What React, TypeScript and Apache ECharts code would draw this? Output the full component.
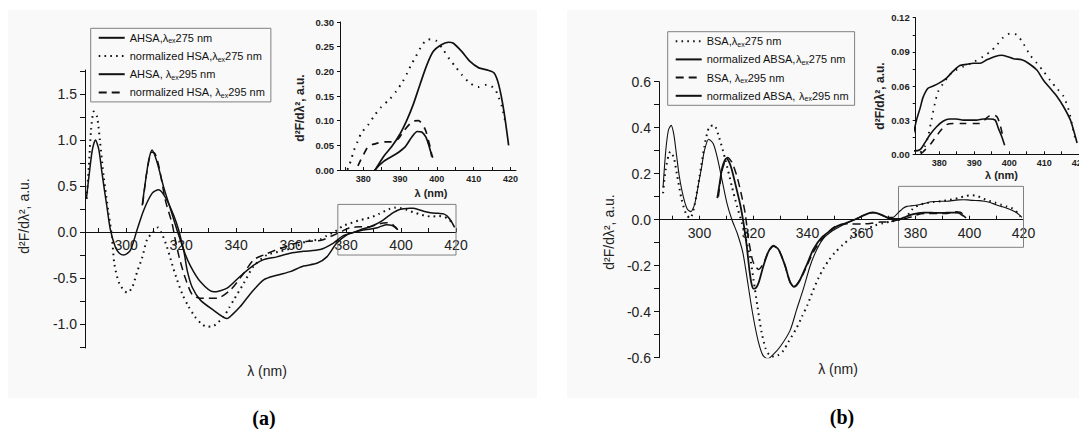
import React, { useEffect, useRef } from 'react';
import * as echarts from 'echarts';

type P = [number, number];

// ---------- Panel (a) data ----------
const ahsa275: P[] = [
  [285.5, 0.36], [286.5, 0.62], [287.6, 0.88], [288.8, 1.0], [290, 0.9], [291.2, 0.64], [292.1, 0.45], [293, 0.27],
  [294.2, 0.03], [296, -0.16], [297.5, -0.23], [299.1, -0.25], [301.5, -0.2], [303.9, 0.02], [306.4, 0.24],
  [309.4, 0.42], [311.8, 0.46], [314.2, 0.38], [317.3, 0.18], [319.1, 0.02], [321, -0.2], [323.4, -0.37],
  [327, -0.54], [331.8, -0.65], [336.7, -0.61], [341.5, -0.48], [346.4, -0.36], [350, -0.3], [354.8, -0.27],
  [359.7, -0.23], [364.5, -0.21], [370.6, -0.19], [375.4, -0.12], [379, -0.04], [383.2, 0], [385.5, 0.027],
  [387.7, 0.047], [390, 0.073], [391.8, 0.1], [393.6, 0.133], [395.5, 0.175], [397.3, 0.213], [399, 0.24],
  [401, 0.253], [403.2, 0.259], [404.5, 0.257], [406.8, 0.24], [409, 0.22], [411.4, 0.207], [413.6, 0.203],
  [415.5, 0.197], [416.8, 0.173], [418.2, 0.12], [419.5, 0.05]
];
const hsa275: P[] = [
  [285.6, 0.36], [286.4, 0.71], [287.2, 1.11], [288.2, 1.31], [289.4, 1.25], [290.4, 1.0], [291.8, 0.6],
  [293.6, 0.2], [294.8, -0.05], [295.7, -0.35], [297.5, -0.56], [300.4, -0.66], [302.2, -0.6], [304, -0.43],
  [305.8, -0.28], [307.6, -0.08], [309.8, 0], [311.6, 0.05], [313, -0.02], [314.8, -0.16], [316.7, -0.35],
  [318.5, -0.52], [320.5, -0.68], [322.5, -0.8], [325, -0.92], [327.5, -1.0], [329.5, -1.03], [331.8, -1.02],
  [333.5, -0.98], [335.5, -0.92], [337.5, -0.82], [339.1, -0.74], [342.7, -0.56], [346.4, -0.37], [351.2, -0.25],
  [356.1, -0.21], [360.9, -0.17], [365.7, -0.1], [370.6, -0.08], [373, -0.04], [375, -0.01], [376.1, 0.007],
  [376.8, 0.023], [377.5, 0.04], [378.5, 0.058], [379.5, 0.075], [381.4, 0.092], [383, 0.11], [384.8, 0.127],
  [387.1, 0.143], [389, 0.16], [390.7, 0.179], [392, 0.197], [393, 0.213], [394.3, 0.23], [395.6, 0.248],
  [397.5, 0.265], [399.8, 0.262], [401.8, 0.243], [403.4, 0.225], [405, 0.21], [406.8, 0.193], [408.9, 0.177],
  [411.2, 0.168], [413.6, 0.173], [415.7, 0.165], [416.8, 0.147], [417.7, 0.128], [418.6, 0.097]
];
const ahsa295: P[] = [
  [305.8, 0.29], [307, 0.55], [308.2, 0.78], [309.4, 0.89], [311.2, 0.76], [313.6, 0.49], [316.1, 0.25],
  [318.5, 0.02], [320.9, -0.2], [322.2, -0.42], [324, -0.6], [327, -0.74], [331.8, -0.85], [336.7, -0.94],
  [338.5, -0.9], [341.5, -0.81], [345.2, -0.67], [350, -0.52], [354.8, -0.47], [359.7, -0.43], [364.5, -0.37],
  [369.4, -0.34], [373, -0.27], [376.6, -0.12], [380.3, -0.03], [383.2, 0], [385.5, 0.017], [389, 0.033],
  [391.4, 0.047], [393.2, 0.067], [394.7, 0.078], [395.9, 0.077], [397, 0.067], [397.7, 0.053], [398.5, 0.033],
  [398.9, 0.025]
];
const hsa295: P[] = [
  [306, 0.3], [307.5, 0.65], [309.3, 0.87], [310.5, 0.85], [312, 0.7], [314.2, 0.35], [316.7, 0.09],
  [317.9, -0.09], [319.5, -0.3], [321.5, -0.5], [324, -0.68], [327, -0.72], [330, -0.72], [333, -0.72],
  [337.9, -0.63], [342.7, -0.45], [346.4, -0.3], [350, -0.25], [354, -0.2], [358, -0.16], [362, -0.12],
  [366, -0.1], [371, -0.09], [375, -0.04], [378, 0], [379.3, 0.02], [380, 0.03], [381.4, 0.048], [383.2, 0.053],
  [385.5, 0.057], [387.7, 0.057], [389.5, 0.063], [391.1, 0.08], [393.6, 0.099], [395, 0.1], [396.8, 0.083],
  [397.7, 0.06], [398.4, 0.04], [398.6, 0.027]
];

// ---------- Panel (b) data ----------
const bsa275: P[] = [
  [286.5, 0.115], [287.5, 0.22], [289.2, 0.296], [290.5, 0.27], [291.6, 0.2], [293.4, 0.087], [295.2, 0.02],
  [296.6, 0.007], [298.2, 0.065], [300, 0.187], [301.8, 0.317], [303.6, 0.404], [305.4, 0.41], [307.2, 0.36],
  [309.6, 0.26], [312, 0.144], [313.9, 0.058], [315.7, -0.014], [317.5, -0.1], [318.7, -0.16], [320, -0.26],
  [321.5, -0.38], [323, -0.49], [324.5, -0.56], [326, -0.59], [327.5, -0.595], [329, -0.59], [331, -0.57],
  [333, -0.53], [336, -0.47], [338, -0.42], [340, -0.37], [342, -0.31], [344, -0.255], [346, -0.21],
  [348, -0.175], [350, -0.145], [353, -0.11], [356, -0.08], [359, -0.058], [362, -0.04], [365, -0.025],
  [368, -0.015], [371, -0.008], [373, -0.003], [374.6, 0.0015], [375.9, 0.007], [376.8, 0.015], [377.8, 0.03],
  [378.8, 0.045], [379.7, 0.055], [381.1, 0.062], [383, 0.07], [384.9, 0.074], [386.9, 0.077], [389.8, 0.081],
  [392.6, 0.086], [394.5, 0.09], [396.5, 0.096], [398.4, 0.103], [400.3, 0.106], [402.2, 0.105], [404.1, 0.097],
  [406, 0.087], [407.9, 0.08], [409.8, 0.073], [411.7, 0.065], [413.6, 0.058], [415.5, 0.051], [417, 0.039],
  [417.9, 0.027], [418.9, 0.013]
];
const absa275: P[] = [
  [286.5, 0.14], [287.5, 0.3], [288.5, 0.39], [289.5, 0.41], [290.5, 0.37], [291.5, 0.28], [292.5, 0.19],
  [294, 0.1], [295.5, 0.045], [296.8, 0.035], [298, 0.06], [298.8, 0.1], [300, 0.18], [300.8, 0.23],
  [301.8, 0.3], [303.4, 0.35], [305.1, 0.33], [306.6, 0.27], [308.4, 0.17], [310.2, 0.07], [312, 0],
  [314, -0.06], [316, -0.14], [317.5, -0.245], [319, -0.36], [320.5, -0.46], [322, -0.54], [323.5, -0.59],
  [325.3, -0.605], [327, -0.59], [330, -0.55], [333.6, -0.48], [336, -0.39], [338.5, -0.3], [341, -0.2],
  [343.5, -0.128], [346, -0.08], [349, -0.05], [352, -0.03], [355, -0.012], [358, 0.003], [361, 0.02],
  [363, 0.028], [365, 0.029], [367, 0.022], [369.5, 0.01], [371.5, 0.01], [373.7, 0.032], [374.6, 0.041],
  [375.4, 0.05], [376.8, 0.058], [378.3, 0.06], [380.2, 0.063], [382.1, 0.067], [384, 0.073], [385.9, 0.078],
  [387.8, 0.079], [389.8, 0.08], [391.7, 0.08], [393.6, 0.083], [396, 0.086], [397.9, 0.087], [399.3, 0.086],
  [401.2, 0.084], [403.6, 0.083], [405.5, 0.08], [407.9, 0.074], [409.8, 0.065], [411.7, 0.058], [413.6, 0.051],
  [415.5, 0.042], [417.5, 0.03], [418.5, 0.02], [419.4, 0.01]
];
const bsa295: P[] = [
  [307, 0.1], [308.5, 0.22], [310.5, 0.27], [312, 0.25], [313.9, 0.187], [315.4, 0.115], [316.9, 0.029],
  [318, -0.072], [319.5, -0.17], [320.5, -0.2], [321.9, -0.216], [323.7, -0.19], [325.5, -0.14], [327.4, -0.115],
  [329.3, -0.13], [331.7, -0.2], [333.5, -0.27], [335, -0.29], [337.3, -0.26], [339.8, -0.2], [342.2, -0.14],
  [345, -0.09], [348, -0.05], [351, -0.025], [355, -0.018], [360, -0.019], [364, -0.015], [367, -0.01],
  [370, -0.01], [372.5, -0.003], [374.5, 0], [375.4, 0.002], [377.8, 0.01], [380.2, 0.02], [382.1, 0.026],
  [384, 0.027], [386.9, 0.027], [389.8, 0.027], [391.7, 0.027], [393.6, 0.032], [395, 0.035], [396.5, 0.033],
  [397.4, 0.026], [398.2, 0.0155]
];
const absa295: P[] = [
  [306.6, 0.094], [307.5, 0.16], [308.5, 0.23], [310, 0.267], [311, 0.25], [312, 0.216], [313.5, 0.144],
  [315.1, 0.065], [316.3, -0.014], [317.5, -0.115], [318.5, -0.22], [319.3, -0.28], [320, -0.3], [321, -0.295],
  [321.9, -0.274], [323.7, -0.2], [325.5, -0.14], [327.4, -0.113], [329.3, -0.13], [331.7, -0.2], [333.5, -0.27],
  [335, -0.292], [336, -0.285], [337.3, -0.26], [339.8, -0.194], [342.2, -0.128], [345.3, -0.077],
  [348.4, -0.048], [351, -0.028], [354, -0.016], [358, 0.003], [361, 0.02], [364, 0.032], [366, 0.028],
  [367.7, 0.02], [370.1, 0.006], [372.5, 0.003], [374.5, 0.004], [375.9, 0.01], [377.3, 0.017], [379.2, 0.024],
  [381.1, 0.029], [383, 0.031], [384.9, 0.031], [386.9, 0.03], [388.8, 0.03], [390.7, 0.03], [392.6, 0.031],
  [394.5, 0.031], [396, 0.03], [396.9, 0.023], [397.9, 0.0155], [398.7, 0.008]
];

// ---------- Ticks / labels ----------
const mainXTicks = [290, 300, 310, 320, 330, 340, 350, 360, 370, 380, 390, 400, 410, 420];
const mainXLabels = [300, 320, 340, 360, 380, 400, 420];
const aYTicks = [-1.25, -1, -0.75, -0.5, -0.25, 0, 0.25, 0.5, 0.75, 1, 1.25, 1.5, 1.75];
const aYLabels = [-1, -0.5, 0, 0.5, 1, 1.5];
const bYTicks = [-0.6, -0.5, -0.4, -0.3, -0.2, -0.1, 0, 0.1, 0.2, 0.3, 0.4, 0.5, 0.6];
const bYLabels = [-0.6, -0.4, -0.2, 0, 0.2, 0.4, 0.6];
const insetXTicks = [375, 380, 385, 390, 395, 400, 405, 410, 415, 420];
const insetXLabels = [380, 390, 400, 410, 420];
const insetAYTicks = [0, 0.05, 0.1, 0.15, 0.2, 0.25, 0.3];
const insetBYTicks = [0, 0.015, 0.03, 0.045, 0.06, 0.075, 0.09, 0.105, 0.12];
const insetBYLabels = [0, 0.03, 0.06, 0.09, 0.12];

const legendA = ['AHSA,λex275 nm', 'normalized HSA,λex275 nm', 'AHSA, λex295 nm', 'normalized HSA, λex295 nm'];
const legendB = ['BSA,λex275 nm', 'normalized ABSA,λex275 nm', 'BSA, λex295 nm', 'normalized ABSA, λex295 nm'];

const FONT = '"Liberation Sans", Arial, sans-serif';
const INK = '#111';
const TXT = '#222';

// main x axes sit on y = 0: offset from the grid bottom up to the zero line
function mainX(grid: number, offset: number) {
  return {
    gridIndex: grid, type: 'value', min: 285, max: 420, offset,
    axisLine: { show: true, onZero: false, lineStyle: { color: INK, width: 1 } },
    axisTick: { show: true, inside: true, length: 4, customValues: mainXTicks, lineStyle: { color: INK } },
    axisLabel: { customValues: mainXLabels, fontSize: 14, color: TXT, margin: 6, fontFamily: FONT },
    splitLine: { show: false },
  };
}
function insetX(grid: number, min: number, max: number) {
  return {
    gridIndex: grid, type: 'value', min, max,
    axisLine: { show: true, onZero: false, lineStyle: { color: INK, width: 1 } },
    axisTick: { show: true, inside: true, length: 3, customValues: insetXTicks, lineStyle: { color: INK } },
    axisLabel: { customValues: insetXLabels, fontSize: 9, fontWeight: 'bold', color: TXT, margin: 4, fontFamily: FONT },
    splitLine: { show: false },
  };
}
function yAx(grid: number, min: number, max: number, ticks: number[], labels: number[], dec: number, fs: number, bold: boolean, tl: number) {
  return {
    gridIndex: grid, type: 'value', min, max,
    axisLine: { show: true, onZero: false, lineStyle: { color: INK, width: 1 } },
    axisTick: { show: true, inside: false, length: tl, customValues: ticks, lineStyle: { color: INK } },
    axisLabel: {
      customValues: labels, fontSize: fs, fontWeight: bold ? 'bold' : 'normal', color: TXT, margin: tl + 3,
      fontFamily: FONT, formatter: (v: number) => v.toFixed(dec),
    },
    splitLine: { show: false },
  };
}

function line(name: string, data: P[], xi: number, width: number, type: any, extra: any = {}) {
  return {
    type: 'line', name, data, xAxisIndex: xi, yAxisIndex: xi, showSymbol: false, symbol: 'none',
    smooth: 0.25, clip: true, silent: true, emphasis: { disabled: true },
    itemStyle: { color: INK },
    lineStyle: { color: INK, width, type, cap: 'butt', join: 'round' },
    ...extra,
  };
}

const DOT_M: any = [1.6, 4.2];
const DASH_M: any = [8, 5];
const DOT_I: any = [1.6, 5.5];
const DASH_I: any = [7, 6];

const boxStyle = { color: 'rgba(0,0,0,0)', borderColor: '#808080', borderWidth: 1 };

const rich = {
  l: { fontSize: 11, fontFamily: FONT, color: INK },
  s: { fontSize: 7, fontFamily: FONT, color: INK, verticalAlign: 'bottom', lineHeight: 8 },
};
function fmtLegend(name: string) {
  return name.replace('λex', '{l|λ}{s|ex}');
}

function legend(data: string[], left: number, top: number) {
  return {
    data, left, top, orient: 'vertical', itemWidth: 26, itemHeight: 12, itemGap: 5.2,
    padding: [3, 6, 3, 7], borderColor: '#808080', borderWidth: 1, selectedMode: false,
    itemStyle: { color: 'rgba(0,0,0,0)', borderColor: 'rgba(0,0,0,0)', borderWidth: 0, opacity: 0 },
    textStyle: { fontSize: 11, fontFamily: FONT, color: INK, lineHeight: 13, rich },
    formatter: fmtLegend,
  };
}

const option: any = {
  animation: false,
  backgroundColor: 'transparent',
  grid: [
    { left: 85, top: 70, width: 371, height: 278, outerBoundsMode: 'none' },
    { left: 340, top: 22, width: 176, height: 148, outerBoundsMode: 'none' },
    { left: 659, top: 81.7, width: 364.5, height: 276, outerBoundsMode: 'none' },
    { left: 915.7, top: 17.7, width: 181, height: 136.6, outerBoundsMode: 'none' },
  ],
  xAxis: [
    mainX(0, -116),
    insetX(1, 373.7, 421.5),
    mainX(2, -138),
    insetX(3, 373.3, 425),
  ],
  yAxis: [
    yAx(0, -1.26, 1.76, aYTicks, aYLabels, 1, 14, false, 5),
    yAx(1, 0, 0.3, insetAYTicks, insetAYTicks, 2, 9.5, true, 3),
    yAx(2, -0.6, 0.6, bYTicks, bYLabels, 1, 14, false, 5),
    yAx(3, 0, 0.12, insetBYTicks, insetBYLabels, 2, 9.5, true, 3),
  ],
  legend: [legend(legendA, 90.7, 28.3), legend(legendB, 667.7, 31.7)],
  series: [
    // panel a main
    line(legendA[0], ahsa275, 0, 1.5, 'solid', {
      markArea: { silent: true, itemStyle: boxStyle, label: { show: false }, data: [[{ coord: [377, -0.25] }, { coord: [420, 0.3] }]] },
    }),
    line(legendA[1], hsa275, 0, 2, DOT_M),
    line(legendA[2], ahsa295, 0, 1.5, 'solid'),
    line(legendA[3], hsa295, 0, 1.5, DASH_M),
    // panel a inset
    line(legendA[0], ahsa275, 1, 1.7, 'solid'),
    line(legendA[1], hsa275, 1, 2, DOT_I),
    line(legendA[2], ahsa295, 1, 1.7, 'solid'),
    line(legendA[3], hsa295, 1, 1.7, DASH_I),
    // panel b main
    line(legendB[0], bsa275, 2, 2, DOT_M, {
      markArea: { silent: true, itemStyle: boxStyle, label: { show: false }, data: [[{ coord: [373.7, -0.12] }, { coord: [420, 0.145] }]] },
    }),
    line(legendB[1], absa275, 2, 1.1, 'solid'),
    line(legendB[2], bsa295, 2, 1.5, DASH_M),
    line(legendB[3], absa295, 2, 1.8, 'solid'),
    // panel b inset
    line(legendB[0], bsa275, 3, 1.8, DOT_I),
    line(legendB[1], absa275, 3, 1.6, 'solid'),
    line(legendB[2], bsa295, 3, 1.6, DASH_I),
    line(legendB[3], absa295, 3, 1.6, 'solid'),
  ],
  graphic: [
    { type: 'rect', z: -10, silent: true, shape: { x: 8, y: 10, width: 529, height: 388 }, style: { fill: '#f9f9f9' } },
    { type: 'rect', z: -10, silent: true, shape: { x: 567, y: 10, width: 512, height: 388 }, style: { fill: '#f9f9f9' } },
    // main axis titles
    { type: 'text', x: 24, y: 216, rotation: Math.PI / 2, silent: true,
      style: { text: 'd²F/dλ², a.u.', fontSize: 14, fontFamily: FONT, fill: TXT, textAlign: 'center', textVerticalAlign: 'middle', align: 'center', verticalAlign: 'middle' } },
    { type: 'text', x: 609, y: 232, rotation: Math.PI / 2, silent: true,
      style: { text: 'd²F/dλ², a.u.', fontSize: 14, fontFamily: FONT, fill: TXT, textAlign: 'center', textVerticalAlign: 'middle', align: 'center', verticalAlign: 'middle' } },
    { type: 'text', x: 267, y: 371, silent: true,
      style: { text: 'λ (nm)', fontSize: 14, fontFamily: FONT, fill: TXT, textAlign: 'center', textVerticalAlign: 'middle', align: 'center', verticalAlign: 'middle' } },
    { type: 'text', x: 838, y: 369, silent: true,
      style: { text: 'λ (nm)', fontSize: 14, fontFamily: FONT, fill: TXT, textAlign: 'center', textVerticalAlign: 'middle', align: 'center', verticalAlign: 'middle' } },
    // inset axis titles
    { type: 'text', x: 300, y: 108, rotation: Math.PI / 2, silent: true,
      style: { text: 'd²F/dλ², a.u.', fontSize: 12, fontWeight: 'bold', fontFamily: FONT, fill: TXT, textAlign: 'center', textVerticalAlign: 'middle', align: 'center', verticalAlign: 'middle' } },
    { type: 'text', x: 880, y: 96, rotation: Math.PI / 2, silent: true,
      style: { text: 'd²F/dλ², a.u.', fontSize: 12, fontWeight: 'bold', fontFamily: FONT, fill: TXT, textAlign: 'center', textVerticalAlign: 'middle', align: 'center', verticalAlign: 'middle' } },
    { type: 'text', x: 431, y: 193, silent: true,
      style: { text: 'λ (nm)', fontSize: 11, fontWeight: 'bold', fontFamily: FONT, fill: TXT, textAlign: 'center', textVerticalAlign: 'middle', align: 'center', verticalAlign: 'middle' } },
    { type: 'text', x: 1001.5, y: 175, silent: true,
      style: { text: 'λ (nm)', fontSize: 11, fontWeight: 'bold', fontFamily: FONT, fill: TXT, textAlign: 'center', textVerticalAlign: 'middle', align: 'center', verticalAlign: 'middle' } },
    // panel captions
    { type: 'text', x: 264, y: 418, silent: true,
      style: { text: '(a)', fontSize: 20, fontWeight: 'bold', fontFamily: '"Liberation Serif", "DejaVu Serif", serif', fill: '#000', textAlign: 'center', textVerticalAlign: 'middle', align: 'center', verticalAlign: 'middle' } },
    { type: 'text', x: 842, y: 417, silent: true,
      style: { text: '(b)', fontSize: 20, fontWeight: 'bold', fontFamily: '"Liberation Serif", "DejaVu Serif", serif', fill: '#000', textAlign: 'center', textVerticalAlign: 'middle', align: 'center', verticalAlign: 'middle' } },
  ],
};

export default function App() {
  const ref = useRef<HTMLDivElement>(null);
  useEffect(() => {
    if (!ref.current) return;
    const chart = echarts.init(ref.current, null, { renderer: 'svg' });
    chart.setOption(option);
    return () => chart.dispose();
  }, []);
  return <div ref={ref} style={{ position: 'absolute', left: 0, top: 0, width: 1079, height: 429 }} />;
}
